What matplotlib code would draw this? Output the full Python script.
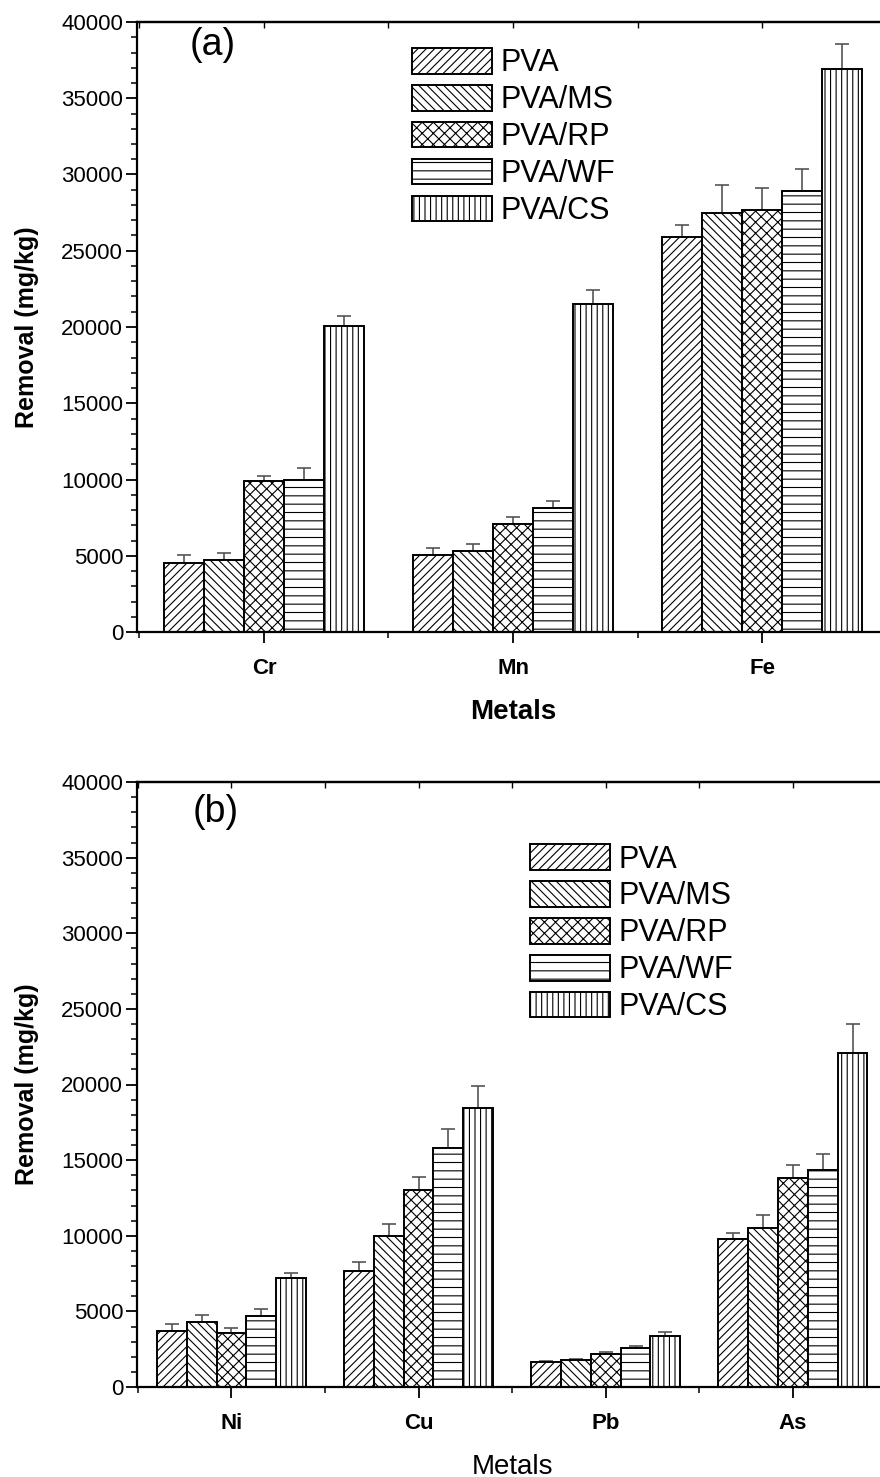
import numpy as np
import matplotlib
matplotlib.use("Agg")
import matplotlib.pyplot as plt
from matplotlib.ticker import MultipleLocator, FixedLocator

plt.rcParams['font.family'] = ['Liberation Sans', 'DejaVu Sans']
plt.rcParams['hatch.linewidth'] = 0.8

series = ["PVA", "PVA/MS", "PVA/RP", "PVA/WF", "PVA/CS"]
hatches = ["////", "\\\\\\\\", "xxx", "--", "|||"]

# panel (a)
metals_a = ["Cr", "Mn", "Fe"]
vals_a = {
    "PVA":    [4550, 5080, 25900],
    "PVA/MS": [4720, 5340, 27500],
    "PVA/RP": [9930, 7100, 27650],
    "PVA/WF": [9990, 8120, 28950],
    "PVA/CS": [20050, 21500, 36950],
}
err_a = {
    "PVA":    [500, 430, 800],
    "PVA/MS": [440, 410, 1800],
    "PVA/RP": [280, 410, 1440],
    "PVA/WF": [740, 440, 1440],
    "PVA/CS": [650, 900, 1630],
}

# panel (b)
metals_b = ["Ni", "Cu", "Pb", "As"]
vals_b = {
    "PVA":    [3730, 7690, 1680, 9770],
    "PVA/MS": [4300, 9980, 1810, 10540],
    "PVA/RP": [3550, 13000, 2210, 13800],
    "PVA/WF": [4690, 15780, 2600, 14330],
    "PVA/CS": [7190, 18420, 3350, 22110],
}
err_b = {
    "PVA":    [460, 570, 60, 420],
    "PVA/MS": [460, 790, 60, 840],
    "PVA/RP": [375, 860, 90, 880],
    "PVA/WF": [490, 1250, 130, 1100],
    "PVA/CS": [375, 1450, 265, 1870],
}

W, H = 880, 1477
fig = plt.figure(figsize=(W / 100, H / 100), dpi=100)
ax_a = fig.add_axes([137 / W, (H - 632) / H, 752 / W, 610 / H])
ax_b = fig.add_axes([137 / W, (H - 1387) / H, 752 / W, 605 / H])

width = 0.16


def draw(ax, metals, vals, errs, xlim, tag, tagpos, legpos, xlab_bold):
    x = np.arange(len(metals))
    for i, s in enumerate(series):
        off = (i - 2) * width
        ax.bar(x + off, vals[s], width, color="white", edgecolor="black",
               linewidth=1.4, hatch=hatches[i], label=s, zorder=2)
        ax.errorbar(x + off, vals[s], yerr=[np.zeros(len(metals)), errs[s]],
                    fmt="none", ecolor="#555555", elinewidth=1.2, capsize=5,
                    capthick=1.2, zorder=1)
    ax.set_xlim(*xlim)
    ax.set_ylim(0, 40000)
    ax.yaxis.set_major_locator(MultipleLocator(5000))
    ax.yaxis.set_minor_locator(MultipleLocator(1000))
    ax.set_xticks(x)
    ax.set_xticklabels(metals, fontsize=16, fontweight="bold")
    minor = np.arange(len(metals) + 1) - 0.5
    ax.xaxis.set_minor_locator(FixedLocator(minor))
    ax.tick_params(axis="y", which="major", length=8, width=1.3,
                   labelsize=16, pad=2)
    ax.tick_params(axis="y", which="minor", length=4, width=1.1)
    ax.tick_params(axis="x", which="major", length=8, width=1.3, pad=11)
    ax.tick_params(axis="x", which="minor", length=4, width=1.1)
    # small inward ticks on the top spine
    top = ax.secondary_xaxis("top")
    top.set_xticks(x)
    top.xaxis.set_minor_locator(FixedLocator(minor))
    top.tick_params(which="both", direction="in", length=4, width=1.0,
                    labeltop=False)
    top.spines["top"].set_linewidth(1.6)
    for sp in ax.spines.values():
        sp.set_linewidth(1.6)
    ax.set_ylabel("Removal (mg/kg)", fontsize=18, fontweight="bold")
    ax.yaxis.set_label_coords(-0.13, 0.5)
    ax.set_xlabel("Metals", fontsize=20,
                  fontweight="bold" if xlab_bold else "normal", labelpad=14)
    ax.text(tagpos[0], tagpos[1], tag, transform=ax.transAxes, fontsize=27,
            va="center", ha="left")
    ax.legend(loc="upper left", bbox_to_anchor=legpos, frameon=False,
              fontsize=22, handlelength=2.6, handleheight=0.9,
              handletextpad=0.3, labelspacing=0.22, borderpad=0,
              borderaxespad=0)


draw(ax_a, metals_a, vals_a, err_a, (-0.51, 2.51), "(a)", (0.07, 0.962),
     (0.366, 0.957), True)
draw(ax_b, metals_b, vals_b, err_b, (-0.505, 3.515), "(b)", (0.074, 0.95),
     (0.523, 0.897), False)

fig.savefig("out.png", dpi=100)
